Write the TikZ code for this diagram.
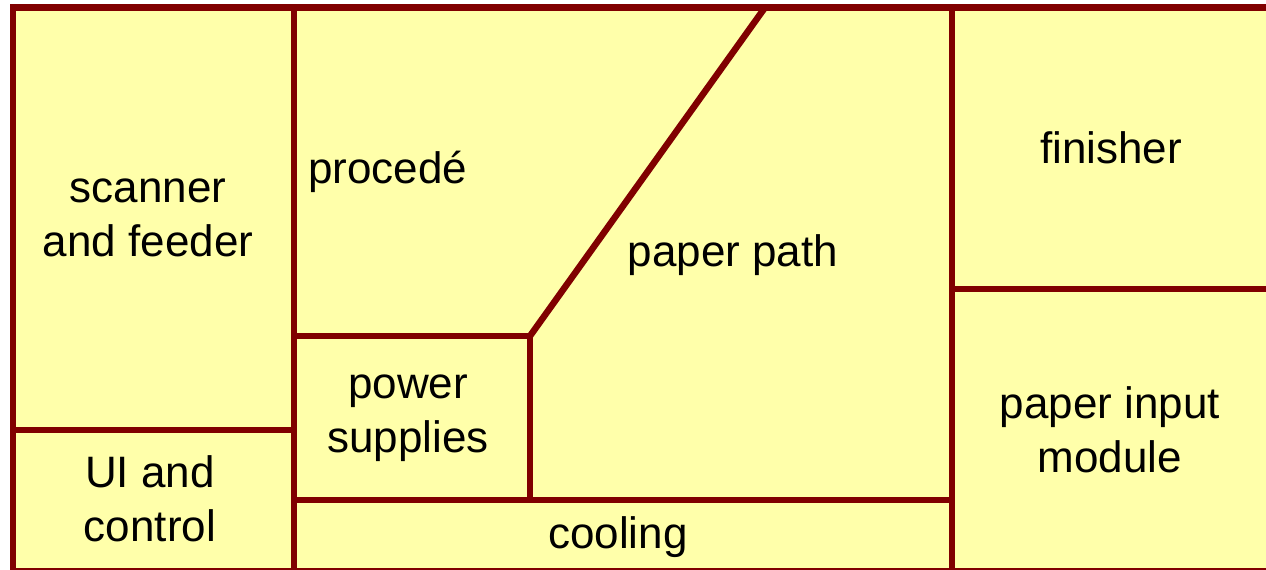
\documentclass[tikz,border=0pt]{standalone}
\usepackage{fontspec}
\setmainfont{Liberation Sans}
\definecolor{boxfill}{RGB}{255,255,170}
\definecolor{wall}{RGB}{128,0,0}
\begin{document}
\begin{tikzpicture}[x=1pt,y=-1pt,
  wallline/.style={draw=wall,line width=6.5pt},
  lbl/.style={font=\fontsize{44}{54}\selectfont,align=center,inner sep=0pt,text=black}]
\useasboundingbox (0,0) rectangle (1266,570);
\clip (0,0) rectangle (1266,570);
\fill[boxfill] (13,7.5) rectangle (1275,575);
% inner walls
\draw[wallline] (294,7.5) -- (294,575);
\draw[wallline] (952,7.5) -- (952,575);
\draw[wallline] (13,430) -- (294,430);
\draw[wallline] (952,289) -- (1275,289);
\draw[wallline] (294,500) -- (952,500);
\draw[wallline] (294,336) -- (530,336) -- (530,500);
\draw[wallline,line join=miter] (530,336) -- (765,7.5);
% outer wall
\draw[wallline,line join=miter] (13,7.5) rectangle (1275,571);
% labels
\node[lbl] (scan) at (148,218) {scanner\\and feeder};
\node[lbl] (ui) at (150,499) {UI and\\control};
\node[lbl,anchor=west] (proc) at (308,172) {procedé};
\node[lbl] (path) at (733,255) {paper path};
\node[lbl] (power) at (408,418) {power\\supplies};
\node[lbl] (cool) at (618,537) {cooling};
\node[lbl] (fin) at (1111,148) {finisher};
\node[lbl] (input) at (1110,430) {paper input\\module};
\end{tikzpicture}
\end{document}
